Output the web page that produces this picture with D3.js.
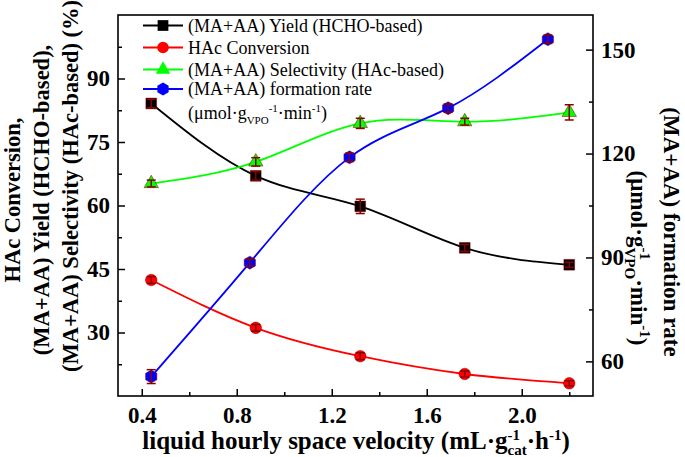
<!DOCTYPE html>
<html><head><meta charset="utf-8">
<script src="https://cdn.jsdelivr.net/npm/d3@7"></script>
<style>
html,body{margin:0;padding:0;background:#fff;}
svg{display:block;font-family:"Liberation Serif","Times New Roman",serif;}
</style></head>
<body>
<svg id="chart" width="685" height="457"></svg>
<script>
// ---- data ----
const lhsv = [0.44, 0.88, 1.32, 1.76, 2.20];
const lhsvRate = [0.44, 0.855, 1.275, 1.69, 2.11];
const yieldHCHO = [84.1, 67.0, 59.8, 50.0, 46.0];
const yieldErr = [1.0, 1.0, 1.7, 0.8, 0.6];
const conversion = [42.4, 31.1, 24.4, 20.2, 18.0];
const conversionErr = [0.8, 0.8, 0.8, 0.7, 0.6];
const selectivity = [65.2, 70.3, 79.4, 79.8, 82.0];
const selectivityErr = [0.8, 1.0, 1.2, 0.8, 1.8];
const rate = [55.6, 88.5, 118.9, 133.1, 153.0];
const rateErr = [2.0, 1.0, 1.2, 1.2, 1.2];
const xTicks = [0.4, 0.8, 1.2, 1.6, 2.0];
const xMinor = [0.6, 1.0, 1.4, 1.8, 2.2];
const yLTicks = [30, 45, 60, 75, 90];
const yLMinor = [22.5, 37.5, 52.5, 67.5, 82.5, 97.5];
const yRTicks = [60, 90, 120, 150];
const yRMinor = [75, 105, 135];

const svg = d3.select("#chart");
const L = 118, R = 593, T = 15, B = 396;
const x = d3.scaleLinear().domain([0.3, 2.3]).range([L, R]);
const yL = d3.scaleLinear().domain([15, 105]).range([B, T]);
const yR = d3.scaleLinear().domain([50, 160]).range([B, T]);

const errColor = "#8b0000";
const tickFont = "23px";

// axes
function styleAxis(g){
  g.select(".domain").remove();
  g.selectAll("line").attr("stroke","#000").attr("stroke-width",1.5);
  g.selectAll("text").attr("font-family","Liberation Serif, Times New Roman, serif")
    .attr("font-weight","bold").attr("font-size",tickFont).attr("fill","#000");
}
svg.append("g").attr("transform",`translate(0,${B})`)
  .call(d3.axisBottom(x).tickValues(xTicks).tickSize(-7).tickPadding(11).tickFormat(d3.format(".1f"))).call(styleAxis);
svg.append("g").attr("transform",`translate(0,${B})`)
  .call(d3.axisBottom(x).tickValues(xMinor).tickSize(-4).tickFormat("")).call(styleAxis);
svg.append("g").attr("transform",`translate(${L},0)`)
  .call(d3.axisLeft(yL).tickValues(yLTicks).tickSize(-7).tickPadding(8)).call(styleAxis);
svg.append("g").attr("transform",`translate(${L},0)`)
  .call(d3.axisLeft(yL).tickValues(yLMinor).tickSize(-4).tickFormat("")).call(styleAxis);
svg.append("g").attr("transform",`translate(${R},0)`)
  .call(d3.axisRight(yR).tickValues(yRTicks).tickSize(-7).tickPadding(8)).call(styleAxis);
svg.append("g").attr("transform",`translate(${R},0)`)
  .call(d3.axisRight(yR).tickValues(yRMinor).tickSize(-4).tickFormat("")).call(styleAxis);

svg.append("rect").attr("x",L).attr("y",T).attr("width",R-L).attr("height",B-T)
  .attr("fill","none").attr("stroke","#000").attr("stroke-width",1.6);

// series
const hexPath = (s) => {
  const r = s/2, pts = d3.range(6).map(i => {const a = Math.PI/3*i - Math.PI/2; return [r*Math.cos(a), r*Math.sin(a)];});
  return d3.line()(pts) + "Z";
};
const series = [
  {name:"yield", xs:lhsv, ys:yieldHCHO, err:yieldErr, scale:yL, color:"#000000", shape:"square"},
  {name:"conv", xs:lhsv, ys:conversion, err:conversionErr, scale:yL, color:"#ff0000", shape:"circle"},
  {name:"sel", xs:lhsv, ys:selectivity, err:selectivityErr, scale:yL, color:"#00ff00", shape:"triangle"},
  {name:"rate", xs:lhsvRate, ys:rate, err:rateErr, scale:yR, color:"#0000ff", shape:"hex"}
];
function markerPath(shape){
  if(shape==="square") return d3.symbol(d3.symbolSquare, 115)();
  if(shape==="circle") return d3.symbol(d3.symbolCircle, 105)();
  if(shape==="triangle") return d3.symbol(d3.symbolTriangle, 90)();
  return hexPath(13);
}
series.forEach(s => {
  const pts = s.xs.map((v,i)=>[x(v), s.scale(s.ys[i])]);
  svg.append("path").attr("d", d3.line().curve(d3.curveNatural)(pts))
    .attr("fill","none").attr("stroke",s.color).attr("stroke-width",1.8);
});
series.forEach(s => {
  const g = svg.append("g");
  s.xs.forEach((v,i)=>{
    g.append("path").attr("d",markerPath(s.shape))
      .attr("transform",`translate(${x(v)},${s.scale(s.ys[i])})`)
      .attr("fill",s.color).attr("stroke",errColor).attr("stroke-opacity",0.5).attr("stroke-width",1);
  });
  s.xs.forEach((v,i)=>{
    const cx = x(v), y1 = s.scale(s.ys[i]-s.err[i]), y2 = s.scale(s.ys[i]+s.err[i]);
    g.append("line").attr("x1",cx).attr("x2",cx).attr("y1",y1).attr("y2",y2).attr("stroke",errColor).attr("stroke-width",1.5);
    [y1,y2].forEach(yy=> g.append("line").attr("x1",cx-4.5).attr("x2",cx+4.5).attr("y1",yy).attr("y2",yy).attr("stroke",errColor).attr("stroke-width",1.5));
  });
});

// legend
const legendItems = [
  {label:"(MA+AA) Yield (HCHO-based)", s:series[0]},
  {label:"HAc Conversion", s:series[1]},
  {label:"(MA+AA) Selectivity (HAc-based)", s:series[2]},
  {label:"(MA+AA) formation rate", s:series[3]}
];
const legBase = [31.5, 53.5, 75.5, 95];
legendItems.forEach((it,i)=>{
  const cy = legBase[i]-6;
  svg.append("line").attr("x1",143).attr("x2",183).attr("y1",cy).attr("y2",cy).attr("stroke",it.s.color).attr("stroke-width",1.8);
  svg.append("path").attr("d",markerPath(it.s.shape)).attr("transform",`translate(163,${cy})`).attr("fill",it.s.color);
  svg.append("text").attr("x",188).attr("y",legBase[i]).attr("font-size","18px").text(it.label);
});
const l5 = svg.append("text").attr("x",188).attr("y",118.5).attr("font-size","18px");
l5.append("tspan").text("(μmol·g");
l5.append("tspan").attr("font-size","11px").attr("dy",5).text("VPO");
l5.append("tspan").attr("font-size","11px").attr("dy",-12).text("-1");
l5.append("tspan").attr("dy",7).text("·min");
l5.append("tspan").attr("font-size","11px").attr("dy",-7).text("-1");
l5.append("tspan").attr("dy",7).text(")");

// axis titles
const xt = svg.append("text").attr("x",356).attr("y",449).attr("text-anchor","middle")
  .attr("font-weight","bold").attr("font-size","25px");
xt.append("tspan").text("liquid hourly space velocity (mL·g");
const xsup = xt.append("tspan").attr("font-size","15px").attr("dy",-9).text("-1");
const xsub = xt.append("tspan").attr("font-size","15px").attr("dy",15).text("cat");
xt.append("tspan").attr("dy",-6).text("·h");
xt.append("tspan").attr("font-size","15px").attr("dy",-9).text("-1");
xt.append("tspan").attr("dy",9).text(")");
xsub.attr("dx", -xsup.node().getComputedTextLength());

const leftLines = [
  {t:"HAc Conversion,", x:20, y:200},
  {t:"(MA+AA) Yield (HCHO-based),", x:49, y:200},
  {t:"(MA+AA) Selectivity (HAc-based) (%)", x:78, y:186}
];
leftLines.forEach(l=>{
  svg.append("text").attr("transform",`translate(${l.x},${l.y}) rotate(-90)`).attr("text-anchor","middle")
    .attr("font-weight","bold").attr("font-size","22.5px").text(l.t);
});
svg.append("text").attr("transform","translate(664,232) rotate(90)").attr("text-anchor","middle")
  .attr("font-weight","bold").attr("font-size","23px").text("(MA+AA) formation rate");
const rt = svg.append("text").attr("transform","translate(631,258) rotate(90)").attr("text-anchor","middle")
  .attr("font-weight","bold").attr("font-size","23px");
rt.append("tspan").text("(μmol·g");
const rsup = rt.append("tspan").attr("font-size","15px").attr("dy",-9).text("-1");
const rsub = rt.append("tspan").attr("font-size","15px").attr("dy",15).text("VPO");
rt.append("tspan").attr("dy",-6).text("·min");
rt.append("tspan").attr("font-size","15px").attr("dy",-9).text("-1");
rt.append("tspan").attr("dy",9).text(")");
rsub.attr("dx", -rsup.node().getComputedTextLength());
</script>
</body></html>
